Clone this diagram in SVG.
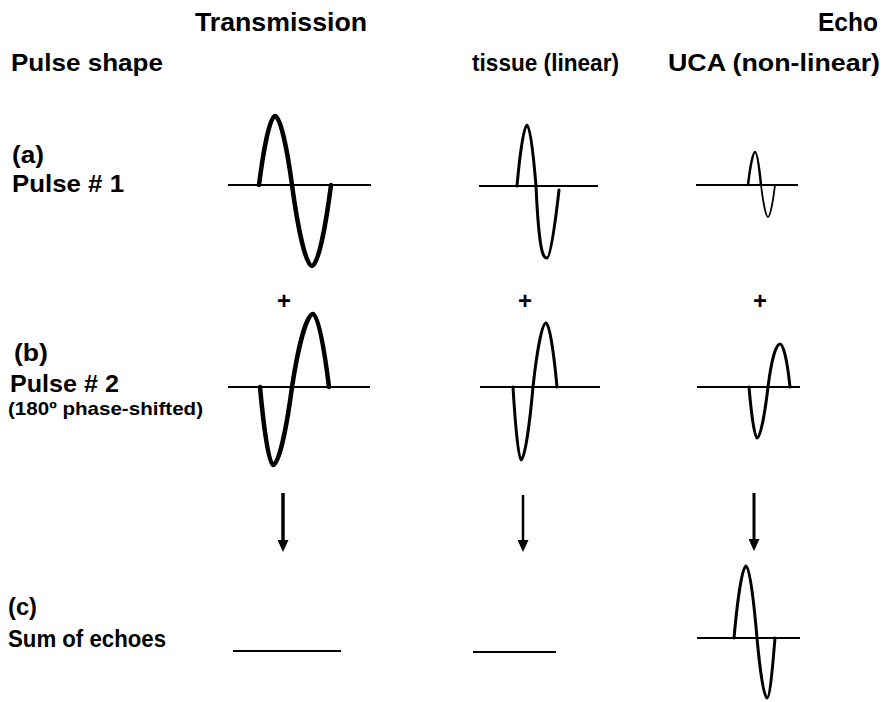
<svg xmlns="http://www.w3.org/2000/svg" width="882" height="702" viewBox="0 0 882 702">
  <style>
    text { font-family: "Liberation Sans", Arial, Helvetica, sans-serif; font-weight: bold; fill: #000; }
    .head { font-size: 26px; }
    .lbl { font-size: 24px; }
    .small { font-size: 19px; }
    .plus { font-size: 24px; text-anchor: middle; }
    .axis { stroke: #000; stroke-width: 2; fill: none; }
    .wave { stroke: #000; fill: none; stroke-linecap: round; stroke-linejoin: round; }
    .thick { stroke-width: 4.5; }
    .mid { stroke-width: 3; }
    .thin { stroke-width: 2.5; }
    .arrow { stroke: #000; fill: none; }
  </style>
  <defs>
    <marker id="head" markerUnits="userSpaceOnUse" markerWidth="12" markerHeight="11" refX="5" refY="5.5" orient="auto" viewBox="0 0 12 11">
      <path d="M0,0 L12,5.5 L0,11 Z" fill="#000"/>
    </marker>
  </defs>
  <rect width="882" height="702" fill="#fff"/>

  <!-- column and row headings -->
  <g id="headings">
    <text class="head" x="195" y="31" textLength="172" lengthAdjust="spacingAndGlyphs">Transmission</text>
    <text class="head" x="818" y="31" textLength="60" lengthAdjust="spacingAndGlyphs">Echo</text>
    <text class="lbl" x="11" y="71" textLength="152" lengthAdjust="spacingAndGlyphs">Pulse shape</text>
    <text class="lbl" x="472" y="71" textLength="147" lengthAdjust="spacingAndGlyphs">tissue (linear)</text>
    <text class="lbl" x="668" y="71" textLength="212" lengthAdjust="spacingAndGlyphs">UCA (non-linear)</text>
  </g>

  <g id="label-a">
    <text class="lbl" x="12" y="163" textLength="32" lengthAdjust="spacingAndGlyphs">(a)</text>
    <text class="lbl" x="12" y="192" textLength="112" lengthAdjust="spacingAndGlyphs">Pulse # 1</text>
  </g>
  <g id="label-b">
    <text class="lbl" x="14" y="361" textLength="34" lengthAdjust="spacingAndGlyphs">(b)</text>
    <text class="lbl" x="10" y="392" textLength="109" lengthAdjust="spacingAndGlyphs">Pulse # 2</text>
    <text class="small" x="8" y="415" textLength="195" lengthAdjust="spacingAndGlyphs">(180º phase-shifted)</text>
  </g>
  <g id="label-c">
    <text class="lbl" x="8" y="615" textLength="29" lengthAdjust="spacingAndGlyphs">(c)</text>
    <text class="lbl" x="8" y="647" textLength="158" lengthAdjust="spacingAndGlyphs">Sum of echoes</text>
  </g>

  <g id="plus-signs">
    <text class="plus" x="284" y="309">+</text>
    <text class="plus" x="525" y="309">+</text>
    <text class="plus" x="760" y="309">+</text>
  </g>

  <!-- row (a): first pulse -->
  <g id="a-transmission">
    <line class="axis" x1="228" y1="185" x2="371" y2="185"/>
    <path class="wave thick" d="M259,185 C263.8,147 270.2,116 275,116 C280.1,116 286.9,147 292,185 C298,229.5 306,266 312,266 C317.7,266 325.3,229.5 331,185"/>
  </g>
  <g id="a-tissue">
    <line class="axis" x1="479" y1="186" x2="598" y2="186"/>
    <path class="wave mid" d="M517,186 C520,152.5 524,125 527,125 C530,125 533.3,152.5 536,186 C539.3,259 544,258 547,258 C550.6,258 555.4,222 559,190"/>
  </g>
  <g id="a-uca">
    <line class="axis" x1="696" y1="185" x2="798" y2="185"/>
    <path class="wave thin" d="M748,185 C750.1,167 752.9,152 755,152 C757,152 759.2,167 761,185"/>
    <path class="wave" stroke-width="1.8" d="M761,185 C763.1,202.6 765.9,217 768,217 C770.1,217 772.9,202.6 775,185"/>
  </g>

  <!-- row (b): phase-inverted pulse -->
  <g id="b-transmission">
    <line class="axis" x1="228" y1="387" x2="370" y2="387"/>
    <path class="wave thick" d="M260,387 C263.9,430 269.1,465 273,465 C278.7,465 286.3,430 292,387 C298.3,346 306.7,314 313,314 C318.1,314 323.9,346 329,387"/>
  </g>
  <g id="b-tissue">
    <line class="axis" x1="480" y1="387" x2="600" y2="387"/>
    <path class="wave mid" d="M513,387 C515.4,427 518.6,460 521,460 C524.6,460 529.4,427 533,387 C536.9,351 542.1,323 546,323 C549.3,323 553.7,351 557,387"/>
  </g>
  <g id="b-uca">
    <line class="axis" x1="697" y1="387" x2="800" y2="387"/>
    <path class="wave mid" d="M749,387 C751.4,415 754.6,438 757,438 C760.3,438 764.7,415 768,387 C771.6,358 776.4,344 780,344 C783,344 787,358 790,387"/>
  </g>

  <!-- summing arrows -->
  <g id="connectors">
    <line class="arrow" stroke-width="3.5" x1="283" y1="493" x2="283" y2="545" marker-end="url(#head)"/>
    <line class="arrow" stroke-width="2.5" x1="523" y1="495" x2="523" y2="545" marker-end="url(#head)"/>
    <line class="arrow" stroke-width="3" x1="754" y1="493" x2="754" y2="544" marker-end="url(#head)"/>
  </g>

  <!-- row (c): summed echoes -->
  <g id="c-transmission">
    <line class="axis" x1="233" y1="651" x2="341" y2="651"/>
  </g>
  <g id="c-tissue">
    <line class="axis" x1="473" y1="652" x2="556" y2="652"/>
  </g>
  <g id="c-uca">
    <line class="axis" x1="697" y1="638" x2="800" y2="638"/>
    <path class="wave mid" d="M734,638 C737.6,598 742.4,566 746,566 C749.5,566 753.6,598 757,638 C760,671 764,698 767,698 C769.7,698 772.3,671 775,638"/>
  </g>
</svg>
